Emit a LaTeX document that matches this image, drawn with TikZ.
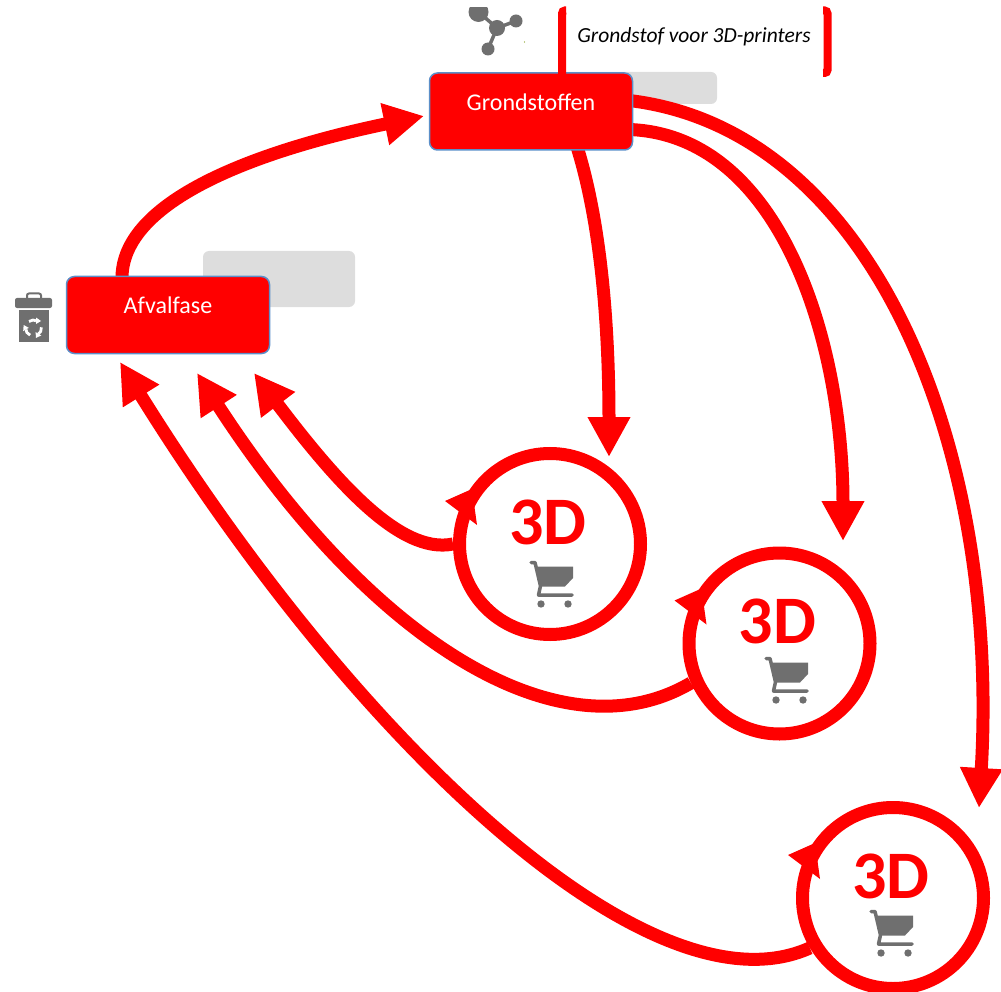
\documentclass[tikz,border=0pt]{standalone}
\usepackage{fontspec}
\setmainfont{Carlito}
\usetikzlibrary{arrows.meta, backgrounds}
\definecolor{icoon}{HTML}{6F6F6F}
\definecolor{rand}{HTML}{5B8FC9}
\definecolor{vlak}{HTML}{DDDDDD}
\tikzstyle{fase} = [rectangle, rounded corners=8pt, minimum width=203pt, minimum height=77pt, inner sep=0pt, text depth=19pt, text centered, draw=rand, line width=1.5pt, fill=red, text=white, font=\fontsize{24}{24}\selectfont]
\tikzstyle{achter} = [fill=vlak, rounded corners=6pt]
\tikzstyle{printer} = [circle, minimum size=181pt, inner sep=0pt, draw=red, line width=13pt]
\tikzstyle{drie} = [anchor=base, text=red, font=\fontsize{68}{68}\selectfont\bfseries]
\tikzstyle{haak} = [draw=red, line width=8pt, rounded corners=3pt]
\tikzstyle{pijl} = [draw=red, line width=13pt, -{Triangle[length=40pt,width=40pt]}]
\tikzset{kar/.pic={
    \draw[icoon, line width=3.5pt, line cap=round, line join=round] (1,1.5) -- (5,1.5) -- (10.5,25) -- (8.5,34) -- (42,34);
    \fill[icoon] (5.5,5.5) -- (43,5.5) -- (43,17) -- (35,25.5) -- (10,25.5) -- cycle;
    \fill[icoon] (11,43) circle (3.7);
    \fill[icoon] (38,43) circle (3.7);
}}

\begin{document}
\begin{tikzpicture}[x=1pt, y=-1pt]
    \useasboundingbox (0,0) rectangle (1001,992);
    \node (grondstoffen) [fase] at (531,111.5) {Grondstoffen};
    \node (afvalfase) [fase] at (168,315) {Afvalfase};
    \node (tekst) at (694,37) {\fontsize{21.5}{21.5}\selectfont\itshape Grondstof voor 3D-printers};
    \foreach \naam/\x/\y/\kx/\ky in {printera/550/544/530/561, printerb/779.5/643.5/765/657, printerc/893/898/870/910} {
        \node (\naam) [printer] at (\x,\y) {};
        \node (drie\naam) [drie] at (\x-2,\y) {3D};
        \fill[red, shift={(\x,\y)}] (-105,-43) -- (-78,-55) -- (-73,-19) -- cycle;
        \pic at (\kx,\ky) {kar};
    }

    \coordinate (tipgrond) at (424,116);
    \coordinate (tipa) at (609,457);
    \coordinate (tipb) at (843,541);
    \coordinate (tipc) at (979,808);
    \coordinate (tipafvala) at (254,373);
    \coordinate (tipafvalb) at (197,373);
    \coordinate (tipafvalc) at (120,362);

    \begin{scope}[on background layer]
        \fill[achter] (203,251) rectangle (355,307);
        \fill[achter] (560,72) rectangle (717,104);
        \draw[pijl] ([xshift=-46pt,yshift=-4pt]afvalfase.north) .. controls (120,200) and (260,150) .. (tipgrond);
        \draw[pijl] ([xshift=46pt,yshift=4pt]grondstoffen.south) .. controls (600,220) and (609,320) .. (tipa);
        \draw[pijl] ([xshift=-4pt,yshift=-18pt]grondstoffen.east) .. controls (780,135) and (843,340) .. (tipb);
        \draw[pijl] ([xshift=-4pt,yshift=11pt]grondstoffen.east) .. controls (875,130) and (1000,450) .. (tipc);
        \draw[pijl] (printera.west) .. controls (400,555) and (335,480) .. (tipafvala);
        \draw[pijl] (printerb.204) .. controls (560,760) and (370,640) .. (tipafvalb);
        \draw[pijl] (printerc.211) .. controls (650,1020) and (355,740) .. (tipafvalc);
    \end{scope}

    \draw[haak] (566,10.5) -- (562,10.5) -- (562,74);
    \draw[haak] (823,10.5) -- (827.5,10.5) -- (827.5,73) -- (823,73);

    \begin{scope}
        \clip (460,8) rectangle (530,60);
        \draw[icoon, line width=3.5pt] (478.5,12) -- (497,28) -- (516,21);
        \draw[icoon, line width=3.5pt] (497,28) -- (488,49);
        \fill[icoon] (478.5,12) circle (10);
        \fill[icoon] (497,28) circle (8);
        \fill[icoon] (516,21) circle (6.5);
        \fill[icoon] (488,49) circle (6.5);
    \end{scope}
    \fill[olive!70!green] (524.5,42) circle (0.7);

    \fill[icoon, rounded corners=2pt] (15,308) -- (15,298) -- (52,298) -- (52,308) -- cycle;
    \draw[icoon, line width=2pt, rounded corners=2pt] (27,299) -- (27,293.5) -- (41,293.5) -- (41,299);
    \fill[icoon] (18.5,310) rectangle (49,342);
    \foreach \hoek in {90,210,330} {
        \begin{scope}[shift={(33.5,328)}, rotate=\hoek]
            \draw[white, line width=2.8pt] (6.5,-4.5) -- (8,-0.5) -- (7.2,2.5);
            \fill[white] (4,2.5) -- (10.5,2.5) -- (7,7.5) -- cycle;
        \end{scope}
    }
\end{tikzpicture}
\end{document}
